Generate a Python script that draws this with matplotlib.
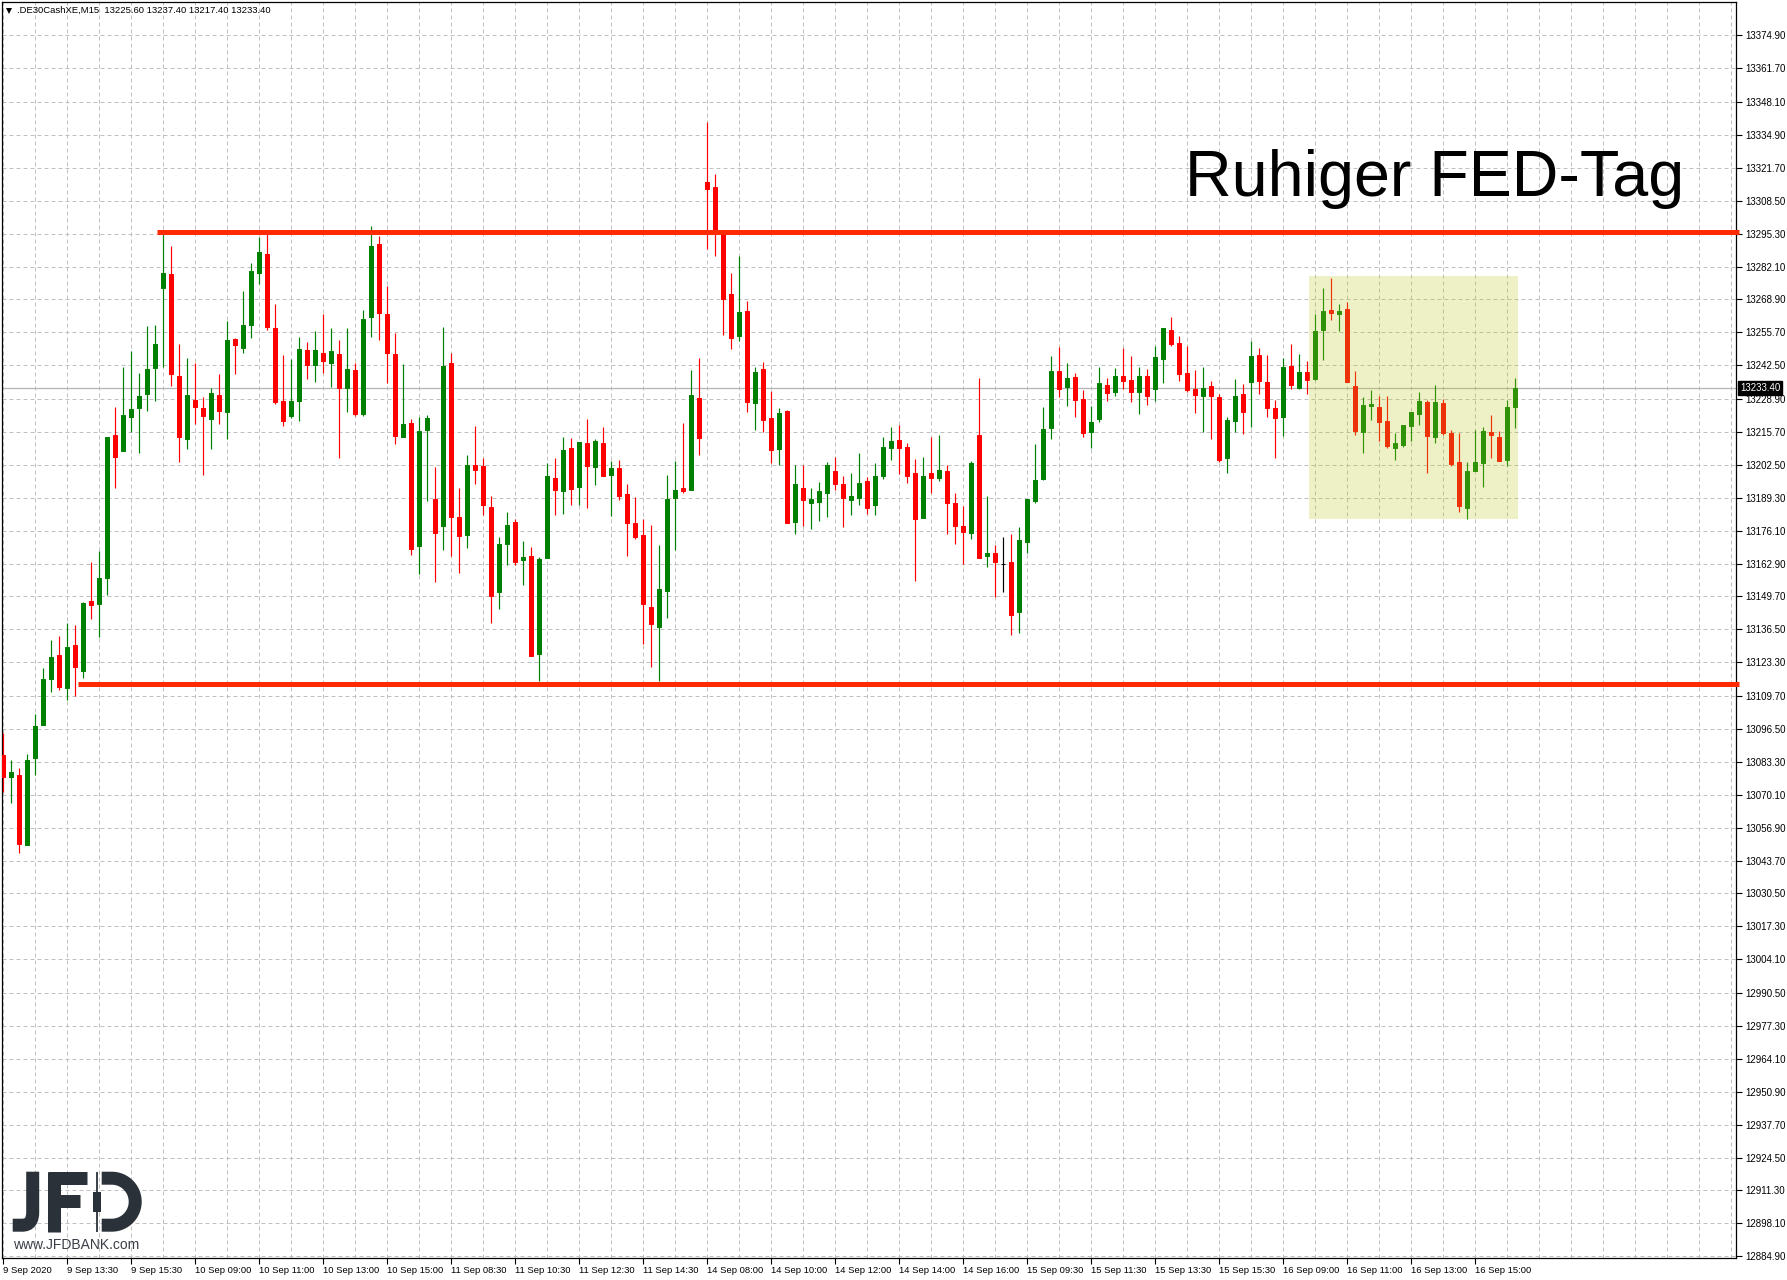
import matplotlib
matplotlib.use("Agg")
import matplotlib.pyplot as plt
import matplotlib.transforms as mtransforms
from matplotlib.patches import Rectangle, PathPatch
from matplotlib.path import Path
import numpy as np

plt.rcParams['font.family'] = ['Liberation Sans', 'DejaVu Sans']

W, H = 1787, 1280

symbol = ".DE30CashXE,M15"
title = "Ruhiger FED-Tag"

opens = [13086.1, 13077.2, 13078.1, 13050.1, 13084.9, 13098.3, 13116.4, 13126.2, 13112.8, 13130.2,
         13119.6, 13147.9, 13146.8, 13157.2, 13214.6, 13207.9, 13221.6, 13225.5, 13231.1, 13241.6,
         13273.7, 13279.1, 13238.2, 13213.1, 13228.5, 13225.3, 13221.0, 13230.5, 13223.9, 13253.1,
         13249.5, 13258.8, 13279.6, 13287.1, 13257.4, 13228.2, 13222.1, 13228.0, 13248.6, 13242.7,
         13247.3, 13243.6, 13247.0, 13233.2, 13240.5, 13223.0, 13261.7, 13291.1, 13263.1, 13247.0,
         13213.9, 13219.2, 13170.1, 13216.4, 13188.8, 13177.8, 13243.3, 13181.5, 13174.5, 13202.6,
         13201.9, 13185.8, 13151.6, 13170.8, 13179.5, 13164.4, 13165.9, 13126.8, 13165.1, 13197.4,
         13192.1, 13209.1, 13193.6, 13211.5, 13201.5, 13211.5, 13198.3, 13201.1, 13190.7, 13179.1,
         13174.3, 13145.4, 13137.6, 13151.9, 13189.1, 13193.4, 13192.4, 13229.4, 13315.9, 13313.9,
         13295.4, 13271.1, 13254.1, 13264.3, 13227.3, 13241.1, 13221.5, 13208.8, 13224.2, 13179.7,
         13193.4, 13187.2, 13187.6, 13191.1, 13200.2, 13194.7, 13188.4, 13189.1, 13196.2, 13186.4,
         13197.9, 13209.2, 13212.6, 13209.5, 13199.4, 13181.2, 13199.4, 13197.3, 13200.2, 13187.2,
         13177.8, 13175.2, 13214.7, 13166.0, 13167.1, 13162.9, 13163.5, 13143.6, 13171.6, 13188.0,
         13197.0, 13217.2, 13240.2, 13233.6, 13237.8, 13229.0, 13215.6, 13220.8, 13234.6, 13231.6,
         13238.2, 13236.6, 13231.6, 13238.2, 13232.8, 13245.2, 13256.6, 13251.4, 13239.4, 13233.0,
         13230.0, 13234.2, 13229.8, 13205.2, 13220.0, 13231.0, 13235.6, 13246.6, 13235.8, 13225.4,
         13221.6, 13242.2, 13233.2, 13239.8, 13236.8, 13256.8, 13264.6, 13263.2, 13265.0, 13234.2,
         13215.6, 13226.0, 13225.8, 13220.2, 13209.2, 13210.4, 13218.0, 13222.8, 13227.8, 13213.6,
         13227.4, 13215.4, 13203.8, 13185.2, 13200.0, 13203.2, 13215.8, 13213.8, 13204.4, 13225.6]

highs = [13095.1, 13084.0, 13080.9, 13086.5, 13102.6, 13121.1, 13132.2, 13133.8, 13139.0, 13138.3,
         13147.6, 13163.5, 13168.0, 13213.7, 13225.7, 13242.0, 13248.3, 13239.3, 13258.3, 13258.6,
         13295.4, 13290.2, 13250.9, 13245.4, 13243.4, 13229.8, 13233.4, 13238.9, 13260.1, 13253.6,
         13272.3, 13283.4, 13294.1, 13295.9, 13267.1, 13246.6, 13245.0, 13253.8, 13251.8, 13256.3,
         13263.1, 13257.4, 13252.5, 13257.4, 13243.6, 13264.7, 13298.4, 13294.3, 13274.2, 13255.6,
         13243.1, 13221.0, 13221.6, 13222.5, 13201.7, 13257.9, 13247.6, 13193.4, 13206.6, 13218.2,
         13205.4, 13190.1, 13173.4, 13183.5, 13181.0, 13171.8, 13169.4, 13165.4, 13203.1, 13205.4,
         13213.9, 13213.5, 13211.8, 13221.0, 13213.0, 13217.6, 13203.9, 13204.6, 13194.7, 13189.6,
         13180.6, 13178.3, 13170.3, 13198.6, 13203.9, 13219.5, 13240.6, 13245.5, 13340.0, 13319.1,
         13296.7, 13279.5, 13286.2, 13268.3, 13241.8, 13243.7, 13232.3, 13225.4, 13224.7, 13202.3,
         13202.3, 13193.4, 13195.6, 13203.5, 13205.7, 13198.2, 13199.4, 13207.4, 13197.6, 13203.4,
         13213.8, 13217.6, 13218.7, 13211.5, 13204.9, 13205.8, 13213.8, 13214.7, 13202.6, 13191.1,
         13186.1, 13203.9, 13237.4, 13189.9, 13170.3, 13173.5, 13174.6, 13177.4, 13188.7, 13211.0,
         13225.8, 13246.2, 13249.8, 13243.4, 13239.4, 13232.6, 13226.2, 13241.8, 13237.4, 13241.4,
         13249.4, 13246.2, 13241.8, 13241.0, 13250.2, 13257.4, 13261.8, 13254.2, 13250.2, 13240.6,
         13241.8, 13236.2, 13231.0, 13221.8, 13237.0, 13235.0, 13252.2, 13249.4, 13246.6, 13228.6,
         13245.4, 13251.0, 13247.0, 13244.2, 13263.0, 13273.4, 13277.4, 13267.0, 13267.8, 13240.2,
         13229.8, 13232.6, 13230.2, 13230.2, 13215.4, 13218.6, 13223.8, 13231.8, 13228.6, 13234.6,
         13229.0, 13216.6, 13215.4, 13203.8, 13216.6, 13217.8, 13222.6, 13216.2, 13228.6, 13237.4]

lows = [13071.1, 13067.0, 13046.7, 13050.1, 13078.2, 13098.3, 13111.2, 13112.3, 13108.2, 13109.8,
        13117.1, 13140.8, 13133.6, 13150.4, 13193.1, 13207.9, 13215.8, 13207.4, 13224.2, 13228.0,
        13242.0, 13234.3, 13203.8, 13208.7, 13219.0, 13198.6, 13208.7, 13219.0, 13213.1, 13239.1,
        13247.5, 13253.6, 13275.1, 13256.5, 13226.9, 13218.3, 13221.2, 13220.3, 13237.1, 13235.9,
        13239.5, 13233.6, 13205.1, 13223.9, 13222.1, 13222.1, 13254.0, 13252.7, 13235.2, 13211.0,
        13213.9, 13166.2, 13158.9, 13187.9, 13155.6, 13168.5, 13166.0, 13159.1, 13169.3, 13194.8,
        13182.4, 13139.2, 13144.8, 13162.4, 13162.4, 13154.2, 13125.9, 13115.9, 13165.1, 13182.4,
        13182.7, 13186.4, 13186.4, 13185.2, 13194.4, 13197.9, 13181.9, 13188.4, 13166.0, 13172.6,
        13130.6, 13121.6, 13115.9, 13141.2, 13168.2, 13191.1, 13192.4, 13206.6, 13289.3, 13286.2,
        13254.8, 13249.2, 13252.2, 13223.6, 13216.7, 13215.6, 13203.2, 13202.5, 13179.2, 13174.8,
        13178.0, 13176.6, 13180.0, 13181.6, 13192.6, 13177.5, 13182.4, 13186.4, 13182.9, 13182.4,
        13196.7, 13204.5, 13198.8, 13195.1, 13155.9, 13181.2, 13191.4, 13195.9, 13174.6, 13170.8,
        13162.8, 13172.8, 13165.1, 13161.6, 13149.3, 13151.6, 13134.4, 13135.2, 13167.2, 13187.2,
        13196.4, 13212.8, 13229.8, 13226.0, 13221.6, 13213.6, 13209.2, 13219.6, 13228.0, 13230.0,
        13232.8, 13227.6, 13222.8, 13226.4, 13228.0, 13235.2, 13250.4, 13236.0, 13231.6, 13223.2,
        13215.6, 13212.8, 13203.6, 13199.2, 13215.6, 13214.8, 13217.6, 13230.8, 13221.6, 13205.2,
        13214.0, 13232.8, 13232.8, 13230.8, 13236.4, 13244.8, 13260.8, 13256.4, 13235.6, 13214.4,
        13207.2, 13220.4, 13212.2, 13209.2, 13204.4, 13209.6, 13212.0, 13218.4, 13199.2, 13211.2,
        13214.4, 13202.0, 13183.6, 13180.8, 13200.0, 13193.6, 13205.2, 13204.0, 13202.0, 13217.4]

closes = [13077.2, 13079.3, 13050.5, 13084.2, 13097.8, 13116.6, 13125.4, 13113.5, 13129.5, 13121.2,
          13147.0, 13146.1, 13157.1, 13213.7, 13205.8, 13222.5, 13225.0, 13230.2, 13240.9, 13250.9,
          13279.4, 13239.1, 13213.9, 13230.5, 13225.9, 13222.3, 13231.4, 13224.2, 13252.5, 13250.8,
          13258.6, 13280.3, 13288.0, 13257.9, 13227.8, 13220.3, 13228.2, 13249.0, 13242.7, 13248.6,
          13244.3, 13248.2, 13233.2, 13240.9, 13223.0, 13261.0, 13290.3, 13263.3, 13247.5, 13214.2,
          13218.9, 13168.9, 13216.2, 13221.4, 13175.3, 13242.2, 13181.8, 13174.0, 13202.3, 13200.3,
          13186.4, 13150.0, 13170.6, 13178.3, 13163.4, 13165.4, 13125.9, 13164.8, 13197.9, 13192.4,
          13208.6, 13192.8, 13211.8, 13202.0, 13212.3, 13197.9, 13201.1, 13190.1, 13179.2, 13173.4,
          13146.6, 13138.6, 13152.6, 13189.0, 13192.6, 13191.9, 13230.6, 13213.2, 13313.2, 13296.0,
          13269.2, 13253.6, 13263.9, 13227.6, 13239.8, 13220.4, 13208.4, 13223.5, 13179.2, 13194.7,
          13188.4, 13189.0, 13192.2, 13202.3, 13194.8, 13189.1, 13190.1, 13195.4, 13185.2, 13197.9,
          13209.5, 13212.3, 13209.2, 13198.2, 13180.7, 13198.2, 13197.3, 13200.6, 13187.2, 13178.0,
          13175.5, 13203.4, 13165.1, 13167.1, 13163.6, 13162.9, 13142.4, 13172.3, 13188.7, 13196.6,
          13217.0, 13240.2, 13232.8, 13237.4, 13228.4, 13215.2, 13219.8, 13235.4, 13231.2, 13238.2,
          13236.0, 13231.6, 13238.2, 13230.0, 13245.8, 13257.4, 13251.2, 13238.8, 13232.4, 13230.4,
          13233.4, 13230.0, 13204.4, 13220.6, 13230.2, 13223.6, 13246.2, 13236.0, 13225.2, 13221.2,
          13241.8, 13234.4, 13239.8, 13236.4, 13256.2, 13264.2, 13263.6, 13264.2, 13235.6, 13216.0,
          13226.6, 13227.0, 13219.6, 13210.0, 13211.4, 13218.6, 13223.8, 13228.2, 13214.0, 13227.8,
          13215.2, 13202.8, 13186.0, 13200.2, 13203.8, 13216.2, 13214.4, 13204.0, 13225.8, 13233.4]

time_labels = ["9 Sep 2020", "9 Sep 13:30", "9 Sep 15:30", "10 Sep 09:00", "10 Sep 11:00",
               "10 Sep 13:00", "10 Sep 15:00", "11 Sep 08:30", "11 Sep 10:30", "11 Sep 12:30",
               "11 Sep 14:30", "14 Sep 08:00", "14 Sep 10:00", "14 Sep 12:00", "14 Sep 14:00",
               "14 Sep 16:00", "15 Sep 09:30", "15 Sep 11:30", "15 Sep 13:30", "15 Sep 15:30",
               "16 Sep 09:00", "16 Sep 11:00", "16 Sep 13:00", "16 Sep 15:00"]

price_ticks = [13374.90, 13361.70, 13348.10, 13334.90, 13321.70, 13308.50, 13295.30, 13282.10,
               13268.90, 13255.70, 13242.50, 13228.90, 13215.70, 13202.50, 13189.30, 13176.10,
               13162.90, 13149.70, 13136.50, 13123.30, 13109.70, 13096.50, 13083.30, 13070.10,
               13056.90, 13043.70, 13030.50, 13017.30, 13004.10, 12990.50, 12977.30, 12964.10,
               12950.90, 12937.70, 12924.50, 12911.30, 12898.10, 12884.90]

# annotation levels (price) and start bars
resistance_level = 13296.1
resistance_start = 19.2
support_level = 13114.7
support_start = 9.3
box_bars = (163.25, 189.4)
box_prices = (13180.7, 13278.2)

UP, DOWN, DOJI = '#008000', '#ff0000', '#000000'
GRID = '#c0c0c0'
LINE_RED = '#ff2a00'

fig = plt.figure(figsize=(W / 100, H / 100), dpi=100)
fig.patch.set_facecolor('white')
ax = fig.add_axes([2 / W, 22 / H, 1734 / W, 1256 / H])

o = np.array(opens); h = np.array(highs); l = np.array(lows); c = np.array(closes)
x = np.arange(len(o))
cols = [UP if cc > oo else (DOWN if cc < oo else DOJI) for oo, cc in zip(o, c)]

xmin, xmax = -0.1625, 216.6
ax.set_xlim(xmin, xmax)
ax.set_ylim(12884.2, 13388.3)

# grid
for v in price_ticks:
    ax.axhline(v, color=GRID, lw=0.72, ls=(0, (4, 3)), zorder=1)
for k in np.arange(0, 217, 4):
    ax.axvline(k, color=GRID, lw=0.72, ls=(0, (4, 3)), zorder=1)

# current price line
ax.axhline(c[-1], color='#b4b4b4', lw=0.9, zorder=1.5)

# candles
ax.vlines(x, l, h, colors=cols, lw=0.85, zorder=3)
ax.bar(x, np.abs(c - o), bottom=np.minimum(o, c), width=0.5, color=cols,
       edgecolor=cols, linewidth=0.72, zorder=3.5)

# highlight box
ax.add_patch(Rectangle((box_bars[0], box_prices[0]), box_bars[1] - box_bars[0],
                       box_prices[1] - box_prices[0], facecolor='#bec81e', alpha=0.25,
                       lw=0, zorder=4))

# support / resistance lines
ax.hlines(resistance_level, resistance_start, xmax + 0.4, color=LINE_RED, lw=3.6,
          zorder=5, clip_on=False)
ax.hlines(support_level, support_start, xmax + 0.4, color=LINE_RED, lw=3.6,
          zorder=5, clip_on=False)

# axes
for s in ax.spines.values():
    s.set_color('black'); s.set_linewidth(0.9)
ax.yaxis.tick_right()
ax.set_yticks(price_ticks)
ax.set_yticklabels([f"{v:.2f}" for v in price_ticks])
ax.tick_params(axis='y', length=4, width=0.8, pad=2.5, labelsize=7.0, direction='out')
ax.set_xticks(x[::8])
ax.set_xticklabels(time_labels, ha='left')
ax.tick_params(axis='x', length=4, width=0.8, pad=2, labelsize=6.8, direction='out')

# current price label
trans = mtransforms.blended_transform_factory(ax.transAxes, ax.transData)
ax.text(1.0 + 4 / 1734, c[-1], f"{c[-1]:.2f}", transform=trans, ha='left', va='center',
        color='white', fontsize=7.0, zorder=10, clip_on=False,
        bbox=dict(boxstyle='square,pad=0.2', fc='black', ec='black'))

# overlay in pixel coordinates
ov = fig.add_axes([0, 0, 1, 1], zorder=10)
ov.set_xlim(0, W); ov.set_ylim(H, 0); ov.axis('off'); ov.patch.set_alpha(0)

ov.plot([9], [10.5], marker='v', ms=4.2, color='black', mew=0)
ov.text(17, 10.5, f"{symbol}  {o[-1]:.2f} {h[-1]:.2f} {l[-1]:.2f} {c[-1]:.2f}",
        fontsize=6.8, ha='left', va='center', color='black')

ov.text(1185, 195.7, title, fontsize=46.5, family='Liberation Sans',
        ha='left', va='baseline', color='black')

# JFD logo
LOGO = '#2b3139'
sw = 9.36
jp = Path([(32.7, 1171.7), (32.7, 1212), (32.7, 1220), (30, 1225.2), (22, 1225.2), (12.7, 1225.2)],
          [Path.MOVETO, Path.LINETO, Path.CURVE4, Path.CURVE4, Path.CURVE4, Path.LINETO])
ov.add_patch(PathPatch(jp, fill=False, lw=sw, edgecolor=LOGO, capstyle='butt', joinstyle='miter'))
ov.plot([54.2, 54.2], [1171.7, 1231.7], color=LOGO, lw=sw, solid_capstyle='butt')
ov.plot([47.7, 87.3], [1178.2, 1178.2], color=LOGO, lw=sw, solid_capstyle='butt')
ov.plot([47.7, 80.0], [1200.5, 1200.5], color=LOGO, lw=sw, solid_capstyle='butt')
ov.plot([97, 97], [1171.7, 1231.7], color=LOGO, lw=1.3, solid_capstyle='butt')
ov.add_patch(Rectangle((92.7, 1191.7), 8, 20, facecolor=LOGO, lw=0))
t = np.linspace(np.pi / 2, -np.pi / 2, 60)
dx = np.concatenate([[101.7], 111.7 + 23.5 * np.cos(t), [101.7]])
dy = np.concatenate([[1178.2], 1201.7 - 23.5 * np.sin(t), [1225.2]])
ov.plot(dx, dy, color=LOGO, lw=sw, solid_capstyle='butt', solid_joinstyle='miter')
ov.text(12.7, 1249.3, "www.JFDBANK.com", fontsize=10, color='#3a3f47', ha='left', va='baseline')

fig.savefig('out.png', dpi=100, facecolor='white')
